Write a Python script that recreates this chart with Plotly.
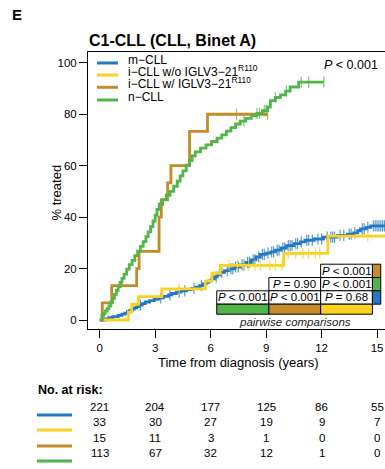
import numpy as np
import plotly.graph_objects as go

# ---- colours -------------------------------------------------------------
BLUE = "#2379c3"
YELLOW = "#f9d31f"
BROWN = "#c48c29"
GREEN = "#51b548"
FONT = "Liberation Sans, Arial, Helvetica, sans-serif"

# ---- cumulative incidence step curves (time in years, % treated) ----------
m_cll_t = [0, 0.3, 0.5, 0.7, 1.0, 1.2, 1.37, 1.5, 1.62, 1.75, 1.87, 2.0, 2.12, 2.3,
           2.46, 2.7, 2.95, 3.2, 3.45, 3.72, 3.9, 4.15, 4.4, 4.7, 4.95, 5.2, 5.4,
           5.6, 5.75, 5.9, 6.05, 6.2, 6.35, 6.5, 6.75, 7.0, 7.3, 7.6, 7.9, 8.2,
           8.45, 8.69, 9.0, 9.25, 9.5, 9.8, 10.1, 10.5, 10.86, 11.1, 11.6, 12.1,
           12.85, 13.4, 13.74, 13.95, 14.1, 14.4, 14.65, 15.6]
m_cll_p = [0, 0.45, 0.9, 1.3, 1.8, 2.3, 2.7, 3.2, 3.7, 4.2, 4.7, 5.2, 5.8, 6.4,
           7.0, 7.5, 8.1, 8.6, 9.2, 9.8, 10.3, 10.8, 11.3, 11.8, 12.3, 12.8, 13.4,
           14.0, 14.6, 15.2, 16.0, 16.8, 17.6, 18.5, 19.2, 19.9, 20.6, 21.4, 22.4,
           23.4, 24.5, 25.5, 26.0, 26.5, 27.2, 28.0, 28.9, 29.7, 30.4, 31.0, 31.5,
           32.2, 32.9, 33.4, 33.9, 34.7, 35.4, 36.0, 36.6, 36.6]
m_cll_cens = [2.2, 3.3, 3.8, 4.3, 4.6, 5.1, 5.5, 6.3, 6.6, 6.9, 7.1, 7.2, 7.35, 7.5,
              7.7, 7.8, 8.0, 8.1, 8.3, 8.4, 8.6, 8.8, 8.9, 9.1, 9.3, 9.4, 9.6, 9.7,
              9.9, 10.0, 10.2, 10.3, 10.4, 10.6, 10.7, 10.9, 11.2, 11.3, 11.5, 11.8,
              12.0, 12.3, 12.5, 12.6, 12.7, 13.0, 13.2, 13.5, 13.6, 13.8, 14.2, 14.3,
              14.5, 14.8, 14.9, 15.0, 15.1, 15.2, 15.3, 15.4]

i_wo_t = [0, 1.55, 1.73, 2.09, 3.36, 5.71, 6.07, 6.52, 9.95, 12.34, 15.6]
i_wo_p = [0, 3.03, 6.06, 9.09, 12.12, 15.15, 18.18, 21.21, 25.9, 32.6, 32.6]
i_wo_cens = [4.3, 7.0, 7.45, 7.8, 8.05, 8.4, 8.69, 9.2, 9.5, 9.86, 10.2, 10.6, 11.0,
             11.3, 11.67, 11.9, 14.5]

i_w_t = [0, 0.14, 0.65, 2.0, 2.13, 3.21, 3.33, 3.67, 3.85, 4.86, 5.83, 9.08]
i_w_p = [0, 6.67, 13.33, 20.0, 26.67, 40.0, 46.67, 53.33, 60.0, 73.33, 80.0, 80.0]
i_w_cens = [7.4, 9.08]

n_cll_t = [0.05, 0.12, 0.22, 0.3, 0.4, 0.5, 0.6, 0.7, 0.8, 0.9, 1.0, 1.1, 1.2, 1.32,
           1.46, 1.6, 1.75, 1.9, 2.05, 2.2, 2.35, 2.5, 2.62, 2.75, 2.88, 3.0, 3.1,
           3.22, 3.4, 3.6, 3.8, 4.0, 4.2, 4.35, 4.5, 4.68, 4.85, 5.0, 5.17, 5.45,
           5.75, 6.05, 6.35, 6.6, 6.85, 7.1, 7.35, 7.6, 7.9, 8.2, 8.5, 8.8, 9.08,
           9.23, 9.5, 9.77, 10.05, 10.3, 10.76, 12.12]
n_cll_p = [0, 1.8, 2.7, 3.5, 4.4, 5.5, 7.0, 8.4, 10.0, 11.5, 13.0, 14.6, 16.2, 17.8,
           19.8, 21.5, 23.2, 25.0, 26.8, 28.6, 30.5, 32.4, 34.3, 36.3, 38.5, 40.8,
           43.0, 45.0, 46.8, 48.5, 50.0, 52.0, 54.0, 56.0, 58.0, 60.2, 62.0, 63.8,
           65.4, 66.8, 68.1, 69.4, 70.7, 72.0, 73.4, 74.8, 76.2, 77.3, 78.4, 79.5,
           80.3, 81.4, 82.8, 85.3, 86.5, 87.5, 89.0, 90.6, 92.5, 92.5]
n_cll_cens = [7.8, 8.5, 8.65, 8.9, 9.0, 9.5, 10.1, 10.9, 11.3, 12.12]

# ---- legend / risk table ------------------------------------------------
group_names = ["m−CLL", "i−CLL w/o IGLV3−21<sup>R110</sup>",
               "i−CLL w/ IGLV3−21<sup>R110</sup>", "n−CLL"]
group_colors = [BLUE, YELLOW, BROWN, GREEN]
risk_times = [0, 3, 6, 9, 12, 15]
at_risk = [
    [221, 204, 177, 125, 86, 55],
    [33, 30, 27, 19, 9, 7],
    [15, 11, 3, 1, 0, 0],
    [113, 67, 32, 12, 1, 0],
]

# ---- pairwise comparison table -----------------------------------------
pair_labels = [
    ["", "", "<i>P</i> < 0.001"],
    ["", "<i>P</i> = 0.90", "<i>P</i> < 0.001"],
    ["<i>P</i> < 0.001", "<i>P</i> < 0.001", "<i>P</i> = 0.68"],
]
pair_row_colors = [BROWN, GREEN, BLUE]
pair_col_colors = [GREEN, BROWN, YELLOW]
pair_x_edges = [6.33, 9.15, 11.95, 14.75, 15.2]
pair_y_edges = [21.7, 16.5, 11.35, 6.15, 2.25]

X_RANGE = [-0.633, 15.43]
Y_RANGE = [-3.5, 104.2]
L, R, T, B = 88, 0, 52, 140
W, H = 385, 469
PW, PH = W - L - R, H - T - B


def px(xpix):
    return (xpix - L) / PW


def py(ypix):
    return (H - B - ypix) / PH


def step_value(ts, ps, t):
    i = int(np.searchsorted(np.asarray(ts), t, side="right")) - 1
    return ps[max(i, 0)]


fig = go.Figure()

curves = [
    (m_cll_t, m_cll_p, m_cll_cens, BLUE),
    (i_wo_t, i_wo_p, i_wo_cens, YELLOW),
    (i_w_t, i_w_p, i_w_cens, BROWN),
    (n_cll_t, n_cll_p, n_cll_cens, GREEN),
]
for ts, ps, cens, col in curves:
    fig.add_trace(go.Scatter(x=ts, y=ps, mode="lines", line=dict(color=col, width=2.8, shape="hv"),
                             showlegend=False, hoverinfo="skip"))
    fig.add_trace(go.Scatter(x=cens, y=[step_value(ts, ps, c) for c in cens], mode="markers",
                             opacity=0.75,
                             marker=dict(symbol="line-ns", size=8, line=dict(color=col, width=1.2)),
                             showlegend=False, hoverinfo="skip"))

shapes = []
annotations = []

# pairwise comparison cells
for r, row in enumerate(pair_labels):
    y0, y1 = pair_y_edges[r + 1], pair_y_edges[r]
    for c, lab in enumerate(row):
        if not lab:
            continue
        x0, x1 = pair_x_edges[c], pair_x_edges[c + 1]
        shapes.append(dict(type="rect", xref="x", yref="y", x0=x0, x1=x1, y0=y0, y1=y1,
                           fillcolor="white", line=dict(color="black", width=1)))
        annotations.append(dict(x=(x0 + x1) / 2, y=(y0 + y1) / 2, xref="x", yref="y", text=lab,
                                showarrow=False, font=dict(size=11.5, color="black", family=FONT)))
    shapes.append(dict(type="rect", xref="x", yref="y", x0=pair_x_edges[3], x1=pair_x_edges[4],
                       y0=y0, y1=y1, fillcolor=pair_row_colors[r], line=dict(color="black", width=1)))
for c, col in enumerate(pair_col_colors):
    shapes.append(dict(type="rect", xref="x", yref="y", x0=pair_x_edges[c], x1=pair_x_edges[c + 1],
                       y0=pair_y_edges[4], y1=pair_y_edges[3], fillcolor=col,
                       line=dict(color="black", width=1)))
annotations.append(dict(x=(pair_x_edges[0] + pair_x_edges[3]) / 2, y=-0.6, xref="x", yref="y",
                        text="<i>pairwise comparisons</i>", showarrow=False,
                        font=dict(size=11.5, color="#222", family=FONT)))

# legend inside the panel
leg_y = [63, 75, 87.3, 100]
for name, col, yy in zip(group_names, group_colors, leg_y):
    shapes.append(dict(type="line", xref="paper", yref="paper", x0=px(97), x1=px(118),
                       y0=py(yy), y1=py(yy), line=dict(color=col, width=3)))
    annotations.append(dict(x=px(126), y=py(yy + 6), xref="paper", yref="paper", text=name,
                            xanchor="left", yanchor="bottom", showarrow=False,
                            font=dict(size=12, color="black", family=FONT)))

annotations.append(dict(x=px(380), y=py(65), xref="paper", yref="paper",
                        text="<i>P</i> < 0.001", xanchor="right", yanchor="middle",
                        showarrow=False, font=dict(size=12.5, color="black", family=FONT)))

# titles
annotations.append(dict(x=px(87), y=py(40.5), xref="paper", yref="paper",
                        text="<b>C1-CLL (CLL, Binet A)</b>", xanchor="left", yanchor="middle",
                        showarrow=False, font=dict(size=16, color="black", family=FONT)))
annotations.append(dict(x=px(10), y=py(14.5), xref="paper", yref="paper", text="<b>E</b>",
                        xanchor="left", yanchor="middle", showarrow=False,
                        font=dict(size=15, color="black", family=FONT)))
annotations.append(dict(x=px(238), y=py(371.5), xref="paper", yref="paper",
                        text="Time from diagnosis (years)", showarrow=False,
                        font=dict(size=13, color="black", family=FONT)))
annotations.append(dict(x=px(46), y=py(193), xref="paper", yref="paper", text="% treated",
                        textangle=-90, showarrow=False,
                        font=dict(size=13, color="black", family=FONT)))

# number at risk
annotations.append(dict(x=px(36), y=py(399), xref="paper", yref="paper",
                        text="<b>No. at risk:</b>", xanchor="left", showarrow=False,
                        font=dict(size=12.5, color="black", family=FONT)))
risk_y = [415, 430, 446, 461]
for counts, col, yy in zip(at_risk, group_colors, risk_y):
    shapes.append(dict(type="line", xref="paper", yref="paper", x0=px(37), x1=px(72),
                       y0=py(yy), y1=py(yy), line=dict(color=col, width=3)))
    for t, n in zip(risk_times, counts):
        annotations.append(dict(x=t, y=py(yy), xref="x", yref="paper", text=str(n),
                                showarrow=False, font=dict(size=11.5, color="black", family=FONT)))

fig.update_layout(
    width=W, height=H,
    margin=dict(l=L, r=R, t=T, b=B, pad=0),
    paper_bgcolor="white", plot_bgcolor="white",
    font=dict(family=FONT, size=11.5, color="black"),
    shapes=shapes, annotations=annotations,
    showlegend=False,
)
fig.update_xaxes(range=X_RANGE, tickvals=risk_times, showgrid=False, zeroline=False,
                 automargin=False,
                 showline=True, linecolor="black", linewidth=1, mirror=True,
                 ticks="outside", ticklen=8, tickcolor="black",
                 tickfont=dict(size=11.5, family=FONT))
fig.update_yaxes(range=Y_RANGE, tickvals=[0, 20, 40, 60, 80, 100], showgrid=False,
                 automargin=False,
                 zeroline=False, showline=True, linecolor="black", linewidth=1,
                 ticks="outside", ticklen=8, tickcolor="black",
                 tickfont=dict(size=11.5, family=FONT))

fig.write_html("out.html")
